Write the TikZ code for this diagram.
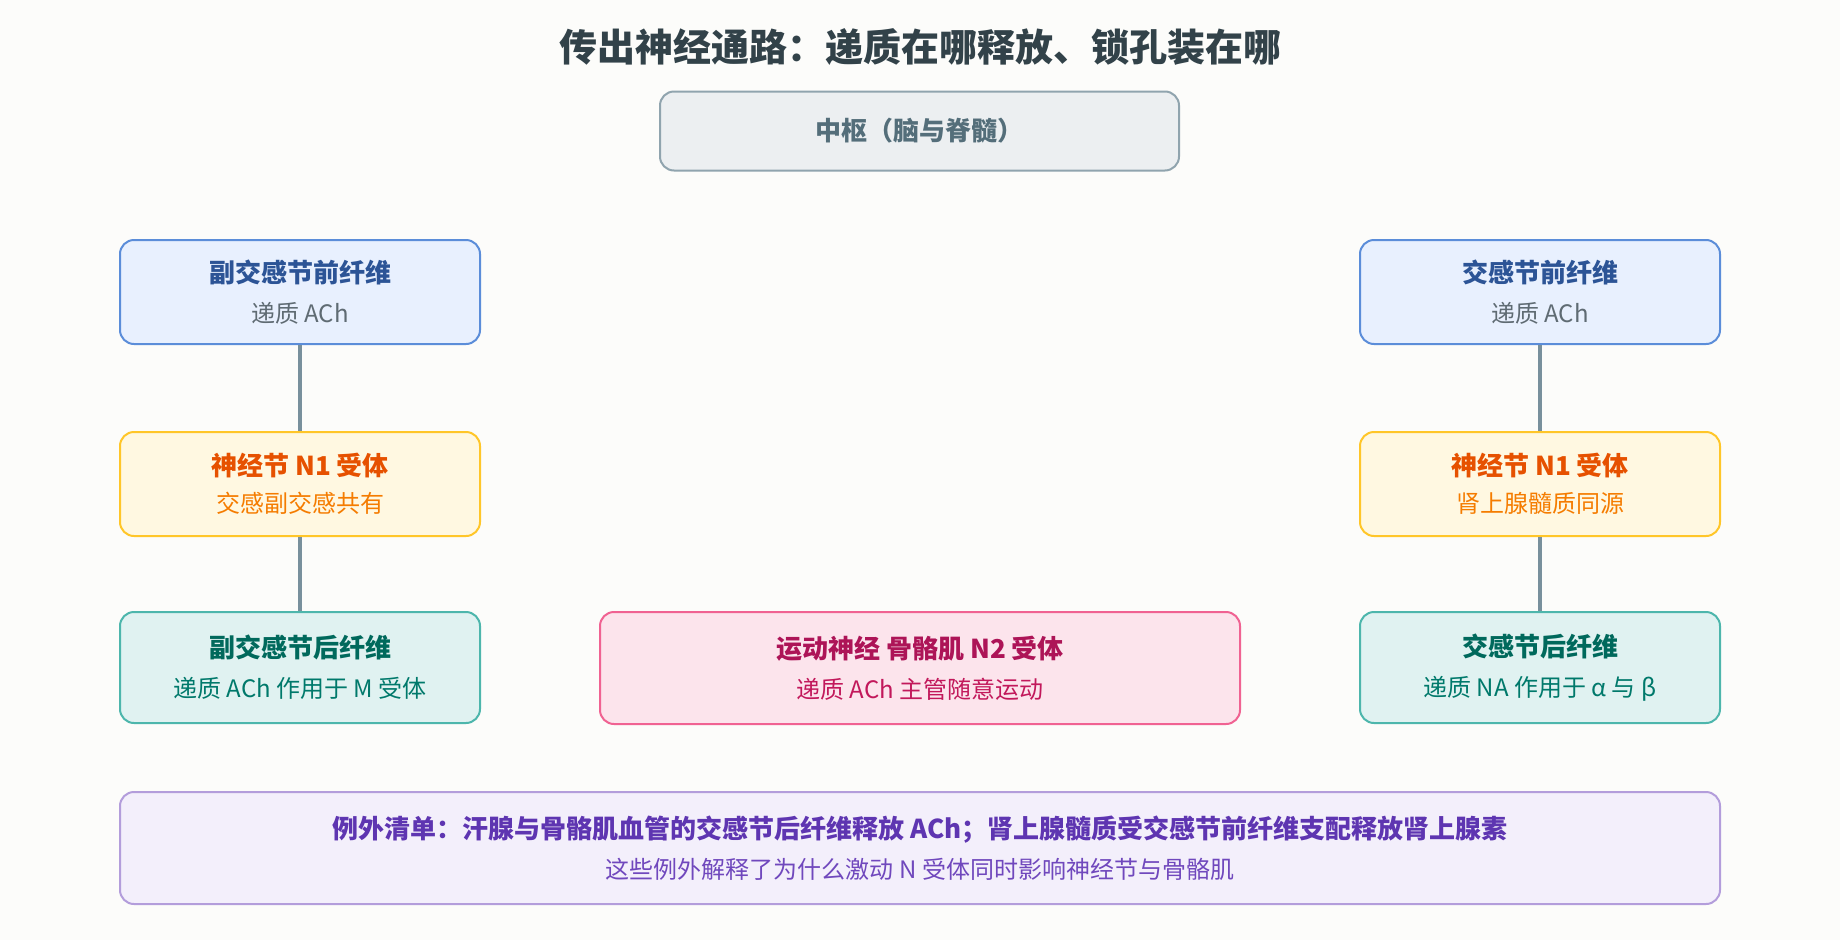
\documentclass[tikz,border=0pt]{standalone}
\usepackage{fontspec}
\setmainfont{Noto Sans CJK SC}
\usepackage{tikz}
\definecolor{bgpage}{HTML}{FCFCFA}
\definecolor{linkgray}{HTML}{78909C}
\definecolor{cnsfill}{HTML}{ECEFF1}
\definecolor{cnsline}{HTML}{90A4AE}
\definecolor{cnstext}{HTML}{546E7A}
\definecolor{prefill}{HTML}{E8F0FE}
\definecolor{preline}{HTML}{5B8DD9}
\definecolor{pretext}{HTML}{2C5496}
\definecolor{presub}{HTML}{5F6B73}
\definecolor{ganfill}{HTML}{FFF8E1}
\definecolor{ganline}{HTML}{FFC629}
\definecolor{gantext}{HTML}{E65100}
\definecolor{gansub}{HTML}{F57C00}
\definecolor{posfill}{HTML}{E0F2F1}
\definecolor{posline}{HTML}{4DB6AC}
\definecolor{postext}{HTML}{00695C}
\definecolor{possub}{HTML}{00796B}
\definecolor{motfill}{HTML}{FCE4EC}
\definecolor{motline}{HTML}{F06292}
\definecolor{mottext}{HTML}{AD1457}
\definecolor{motsub}{HTML}{C2185B}
\definecolor{excfill}{HTML}{F3EFFB}
\definecolor{excline}{HTML}{B39DDB}
\definecolor{exctext}{HTML}{5E35B1}
\definecolor{excsub}{HTML}{7048BD}
\tikzstyle{every node}=[inner sep=0pt]
\tikzstyle{box}=[draw,line width=2pt,rounded corners=14pt,align=center,
  font=\fontsize{24}{40}\selectfont]
\tikzstyle{colbox}=[box,minimum width=360pt]
\tikzstyle{link}=[draw=linkgray,line width=4pt]
\newcommand{\hd}[1]{{\bfseries\fontsize{26}{40}\selectfont #1}}

\begin{document}
\begin{tikzpicture}[x=1pt,y=-1pt]
\fill[bgpage] (0,0) rectangle (1840,940);
\useasboundingbox (0,0) rectangle (1840,940);
\node (title) at (920,47) [text=cnstext!60!black,font=\bfseries\fontsize{38}{40}\selectfont]
  {传出神经通路：递质在哪释放、锁孔装在哪};
\node (cns) at (919.5,131) [box,draw=cnsline,fill=cnsfill,text=cnstext,
  minimum width=519pt,minimum height=79pt] {\hd{中枢（脑与脊髓）}};
\node (ppre) at (300,292) [colbox,draw=preline,fill=prefill,text=presub,minimum height=104pt]
  {\hd{\color{pretext}副交感节前纤维}\\递质 ACh};
\node (pgan) at (300,484) [colbox,draw=ganline,fill=ganfill,text=gansub,minimum height=104pt]
  {\hd{\color{gantext}神经节 N1 受体}\\[-3pt]交感副交感共有};
\node (ppost) at (300,667.5) [colbox,draw=posline,fill=posfill,text=possub,minimum height=111pt]
  {\hd{\color{postext}副交感节后纤维}\\递质 ACh 作用于 M 受体};
\node (spre) at (1540,292) [colbox,draw=preline,fill=prefill,text=presub,minimum height=104pt]
  {\hd{\color{pretext}交感节前纤维}\\递质 ACh};
\node (sgan) at (1540,484) [colbox,draw=ganline,fill=ganfill,text=gansub,minimum height=104pt]
  {\hd{\color{gantext}神经节 N1 受体}\\[-3pt]肾上腺髓质同源};
\node (spost) at (1540,667.5) [colbox,draw=posline,fill=posfill,text=possub,minimum height=111pt]
  {\hd{\color{postext}交感节后纤维}\\递质 NA 作用于 α 与 β};
\node (motor) at (920,668) [box,draw=motline,fill=motfill,text=motsub,
  minimum width=640pt,minimum height=112pt]
  {\hd{\color{mottext}运动神经 骨骼肌 N2 受体}\\递质 ACh 主管随意运动};
\node (exc) at (920,848) [box,draw=excline,fill=excfill,text=excsub,
  minimum width=1600pt,minimum height=112pt]
  {{\bfseries\fontsize{26}{40}\selectfont\color{exctext}例外清单：汗腺与骨骼肌血管的交感节后纤维释放 ACh；肾上腺髓质受交感节前纤维支配释放肾上腺素}\\这些例外解释了为什么激动 N 受体同时影响神经节与骨骼肌};
\draw[link] (ppre)--(pgan);
\draw[link] (pgan)--(ppost);
\draw[link] (spre)--(sgan);
\draw[link] (sgan)--(spost);
\end{tikzpicture}
\end{document}
